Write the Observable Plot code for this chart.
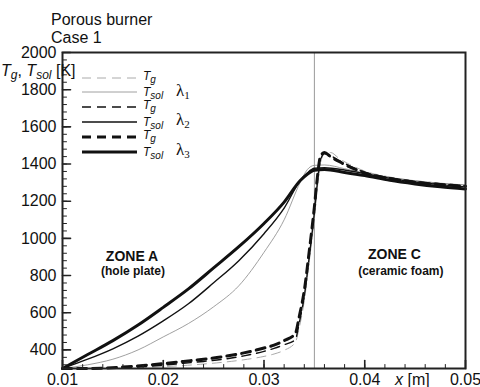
<!DOCTYPE html>
<html>
<head>
<meta charset="utf-8">
<script src="https://cdn.jsdelivr.net/npm/d3@7"></script>
<script src="https://cdn.jsdelivr.net/npm/@observablehq/plot@0.6"></script>
<style>
  html, body { margin: 0; padding: 0; background: #fff; }
  svg { display: block; }
</style>
</head>
<body>
<div id="chart"></div>
<script>
// ---- data ----
const xTicks = [0.01, 0.02, 0.03, 0.04, 0.05];
const yTicks = [400, 600, 800, 1000, 1200, 1400, 1600, 1800, 2000];

// solid temperature (T_sol) curves
const tsolX  = [0.010, 0.0125, 0.015, 0.0175, 0.020, 0.0225, 0.025, 0.0275, 0.030, 0.032, 0.0336, 0.0343, 0.035, 0.036, 0.038, 0.040, 0.0425, 0.045, 0.0475, 0.050];
const tsolL1 = [300, 320, 350, 400, 470, 542, 632, 745, 925, 1100, 1302, 1370, 1393, 1395, 1375, 1352, 1328, 1310, 1297, 1287];
const tsolL2 = [300, 350, 406, 474, 556, 648, 761, 880, 1025, 1163, 1311, 1352, 1377, 1380, 1368, 1348, 1323, 1303, 1289, 1277];
const tsolL3 = [300, 375, 450, 534, 629, 728, 841, 955, 1080, 1195, 1311, 1345, 1366, 1370, 1355, 1338, 1312, 1293, 1278, 1266];

// gas temperature (T_g) curves
const tgX  = [0.010, 0.012, 0.014, 0.016, 0.018, 0.020, 0.022, 0.024, 0.026, 0.028, 0.030, 0.031, 0.032, 0.0331, 0.0335, 0.0340, 0.0345, 0.0350, 0.0353, 0.0356, 0.0360, 0.0366, 0.0375, 0.0385, 0.040, 0.0425, 0.045, 0.0475, 0.050];
const tgL1 = [300, 300, 300, 302, 305, 310, 316, 324, 334, 347, 365, 378, 398, 440, 520, 665, 880, 1110, 1275, 1400, 1458, 1462, 1428, 1398, 1362, 1330, 1310, 1297, 1288];
const tgL2 = [300, 300, 301, 304, 310, 318, 328, 338, 350, 368, 392, 408, 428, 455, 545, 690, 905, 1140, 1300, 1420, 1455, 1445, 1418, 1390, 1356, 1326, 1306, 1293, 1283];
const tgL3 = [300, 300, 302, 308, 316, 326, 338, 350, 364, 384, 410, 426, 450, 487, 580, 720, 935, 1168, 1330, 1440, 1462, 1440, 1412, 1385, 1352, 1322, 1302, 1290, 1280];

const zoneBoundary = [0.035];

// ---- build tables ----
const toRows = (xs, ys) => xs.map((x, i) => ({x, T: ys[i]}));
const styles = {
  tgL1:   {stroke: "#aaa", strokeWidth: 1,   strokeDasharray: "9,6"},
  tsolL1: {stroke: "#888", strokeWidth: 0.8},
  tgL2:   {stroke: "#111", strokeWidth: 1.4, strokeDasharray: "9,6"},
  tsolL2: {stroke: "#111", strokeWidth: 1.4},
  tgL3:   {stroke: "#111", strokeWidth: 3,   strokeDasharray: "9,6"},
  tsolL3: {stroke: "#111", strokeWidth: 3}
};
const series = [
  ["tgL1", toRows(tgX, tgL1)],
  ["tsolL1", toRows(tsolX, tsolL1)],
  ["tgL2", toRows(tgX, tgL2)],
  ["tsolL2", toRows(tsolX, tsolL2)],
  ["tgL3", toRows(tgX, tgL3)],
  ["tsolL3", toRows(tsolX, tsolL3)]
];

const minorX = d3.range(0, 21).map(i => +(0.01 + i * 0.002).toFixed(4));
const minorY = d3.range(0, 43).map(i => 2000 - i * 40).filter(v => v >= 300);

const FONT = "'Liberation Sans', Arial, Helvetica, sans-serif";

// inward tick shapes for Plot.vector
const tickUp = {draw(ctx, l) { ctx.moveTo(0, 0); ctx.lineTo(0, -l); }};
const tickRight = {draw(ctx, l) { ctx.moveTo(0, 0); ctx.lineTo(l, 0); }};

const plot = Plot.plot({
  width: 480,
  height: 387,
  marginLeft: 62,
  marginRight: 15,
  marginTop: 52,
  marginBottom: 19,
  style: {fontFamily: FONT, fontSize: "16px", color: "#111", background: "#fff"},
  x: {domain: [0.01, 0.05]},
  y: {domain: [300, 2000]},
  marks: [
    Plot.ruleX(zoneBoundary, {stroke: "#999", strokeWidth: 1}),
    ...series.map(([k, rows]) => Plot.line(rows, {x: "x", y: "T", curve: "monotone-x", ...styles[k]})),
    // inward ticks
    Plot.vector(minorX, {x: d => d, frameAnchor: "bottom", length: 4, anchor: "start", shape: tickUp, stroke: "#222", strokeWidth: 1}),
    Plot.vector(xTicks, {x: d => d, frameAnchor: "bottom", length: 8, anchor: "start", shape: tickUp, stroke: "#222", strokeWidth: 1.6}),
    Plot.vector(minorY, {y: d => d, frameAnchor: "left", length: 4, anchor: "start", shape: tickRight, stroke: "#222", strokeWidth: 1}),
    Plot.vector(yTicks, {y: d => d, frameAnchor: "left", length: 8, anchor: "start", shape: tickRight, stroke: "#222", strokeWidth: 1.6}),
    // tick labels
    Plot.axisX(xTicks, {tickSize: 0, tickPadding: 5, tickFormat: d => d.toFixed(2), label: null, fontSize: 16}),
    Plot.axisY(yTicks, {tickSize: 0, tickPadding: 6, tickFormat: d => String(d), label: null, fontSize: 16}),
    Plot.frame({stroke: "#222", strokeWidth: 2}),
    // zone annotations
    Plot.text(["ZONE A"], {x: 0.0169, y: 905, fontWeight: "bold", fontSize: 14}),
    Plot.text(["(hole plate)"], {x: 0.0170, y: 826, fontWeight: "bold", fontSize: 12}),
    Plot.text(["ZONE C"], {x: 0.04295, y: 914, fontWeight: "bold", fontSize: 14}),
    Plot.text(["(ceramic foam)"], {x: 0.04358, y: 826, fontWeight: "bold", fontSize: 12})
  ]
});

document.getElementById("chart").appendChild(plot);

// ---- titles, axis labels, legend (drawn into the same SVG) ----
const svg = d3.select(plot);
const g = svg.append("g").attr("font-family", FONT).attr("fill", "#111").attr("text-anchor", "start");

g.append("text").attr("x", 51).attr("y", 25).attr("font-size", 16).text("Porous burner");
g.append("text").attr("x", 51).attr("y", 43).attr("font-size", 16).text("Case 1");

// y label: T_g, T_sol [K]
const yl = g.append("text").attr("x", 1).attr("y", 76).attr("font-size", 16);
yl.append("tspan").attr("font-style", "italic").text("T");
yl.append("tspan").attr("font-style", "italic").attr("font-size", 12).attr("dy", 3).text("g");
yl.append("tspan").attr("dy", -3).text(", ");
yl.append("tspan").attr("font-style", "italic").text("T");
yl.append("tspan").attr("font-style", "italic").attr("font-size", 12).attr("dy", 3).text("sol");
yl.append("tspan").attr("dy", -3).text(" [K]");

// x label: x [m]
const xl = g.append("text").attr("x", 395).attr("y", 385).attr("font-size", 16);
xl.append("tspan").attr("font-style", "italic").text("x");
xl.append("tspan").text(" [m]");

// legend
const legendRows = [
  ["tgL1", "g"], ["tsolL1", "sol"], ["tgL2", "g"], ["tsolL2", "sol"], ["tgL3", "g"], ["tsolL3", "sol"]
];
const rowY = [78, 92, 107, 122, 137, 152];
legendRows.forEach(([k, sub], i) => {
  const s = styles[k];
  g.append("line").attr("x1", 82).attr("x2", 137).attr("y1", rowY[i]).attr("y2", rowY[i])
    .attr("stroke", s.stroke).attr("stroke-width", s.strokeWidth)
    .attr("stroke-dasharray", s.strokeDasharray || null);
  const t = g.append("text").attr("x", 143).attr("y", rowY[i] + (sub === "g" ? 2 : 4))
    .attr("font-size", 12).attr("font-style", "italic");
  t.append("tspan").text("T");
  t.append("tspan").attr("font-size", 10).attr("dy", 3).text(sub);
});
const lambdaY = [96, 125, 155];
["1", "2", "3"].forEach((n, i) => {
  const t = g.append("text").attr("x", 176).attr("y", lambdaY[i])
    .attr("font-family", "'Liberation Serif', 'Times New Roman', serif").attr("font-size", 17);
  t.append("tspan").text("λ");
  t.append("tspan").attr("font-size", 11).attr("dy", 3).text(n);
});
</script>
</body>
</html>
